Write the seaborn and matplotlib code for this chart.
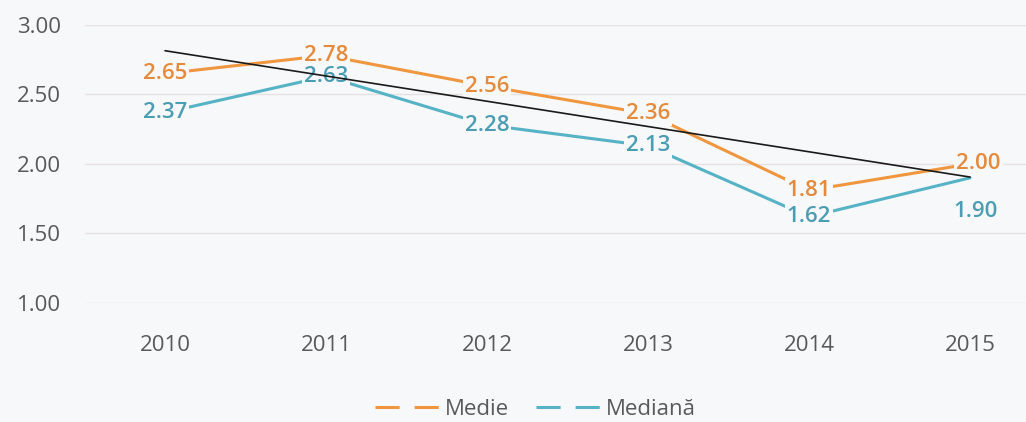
import numpy as np
import pandas as pd
import matplotlib
matplotlib.use("Agg")
import matplotlib.pyplot as plt
import seaborn as sns
from matplotlib.lines import Line2D

years = ["2010", "2011", "2012", "2013", "2014", "2015"]
medie = [2.65, 2.78, 2.56, 2.36, 1.81, 2.00]
mediana = [2.37, 2.63, 2.28, 2.13, 1.62, 1.90]
y_ticks = [1.00, 1.50, 2.00, 2.50, 3.00]

bg = "#f7f8fa"
orange = "#f0963f"
teal = "#56b3c6"
orange_txt = "#e58a3a"
teal_txt = "#4a9db3"

sns.set_theme(style="white")
plt.rcParams["font.family"] = ["Open Sans", "DejaVu Sans"]

df = pd.DataFrame({
    "an": list(range(len(years))) * 2,
    "valoare": medie + mediana,
    "serie": ["Medie"] * len(years) + ["Mediană"] * len(years),
})

fig = plt.figure(figsize=(10.26, 4.22), dpi=100, facecolor=bg)
ax = fig.add_axes([0.0824, 0.282, 0.9415, 0.659])
ax.set_facecolor(bg)

sns.lineplot(data=df, x="an", y="valoare", hue="serie",
             palette={"Medie": orange, "Mediană": teal},
             linewidth=2.2, legend=False, ax=ax, zorder=2)

# linear trend on Medie (like an Excel trendline)
x = np.arange(len(years))
k, b = np.polyfit(x, medie, 1)
ax.plot([x[0], x[-1]], [k * x[0] + b, k * x[-1] + b], color="#1a1a1a",
        linewidth=1.2, zorder=4)

# data labels sit on the points, masking the line; last ones are shifted
last = len(years) - 1
for vals, col, name in ((medie, orange_txt, "Medie"), (mediana, teal_txt, "Mediana")):
    for i, v in enumerate(vals):
        off = (0, 0)
        if i == last:
            off = (6, 0) if name == "Medie" else (4, -24)
        ax.annotate(f"{v:.2f}", (i, v), xytext=off, textcoords="offset points",
                    color=col, fontsize=16, fontweight="semibold",
                    ha="center", va="center", zorder=3,
                    bbox=dict(facecolor=bg, edgecolor="none", pad=1.5))

ax.set_xlim(-0.5, 5.5)
ax.set_ylim(1.0, 3.0)
ax.set_yticks(y_ticks)
ax.set_yticklabels([f"{t:.2f}" for t in y_ticks])
ax.set_xticks(x)
ax.set_xticklabels(years)
ax.tick_params(axis="both", length=0, labelsize=16, labelcolor="#595959")
ax.tick_params(axis="x", pad=23)
ax.tick_params(axis="y", pad=17)
ax.grid(axis="y", color="#e6e2e2", linewidth=1)
ax.set_axisbelow(True)
ax.set_xlabel("")
ax.set_ylabel("")
for s in ax.spines.values():
    s.set_visible(False)

handles = [Line2D([], [], color=orange, linewidth=2.2, linestyle=(0, (7.9, 4.9))),
           Line2D([], [], color=teal, linewidth=2.2, linestyle=(0, (7.9, 4.9)))]
fig.legend(handles, ["Medie", "Mediană"], loc="center", bbox_to_anchor=(0.522, 0.03),
           ncol=2, frameon=False, fontsize=16, handlelength=3.0, handletextpad=0.15,
           columnspacing=1.2, labelcolor="#595959")

fig.savefig("out.png", dpi=100, facecolor=bg)
